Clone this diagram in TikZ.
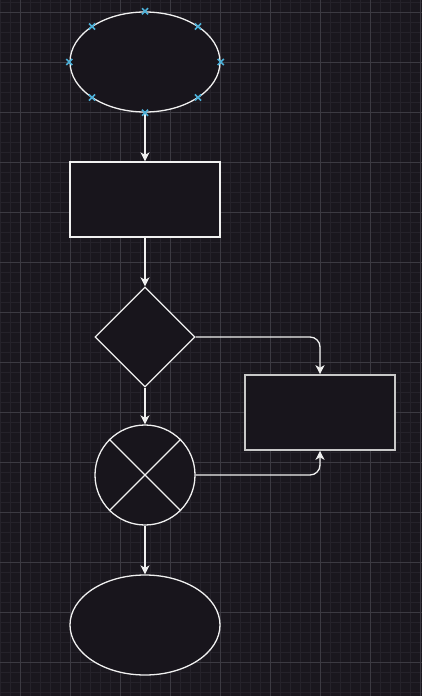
\documentclass[tikz,border=0pt]{standalone}
\usetikzlibrary{shapes.geometric,shapes.misc,arrows.meta}
\definecolor{bg}{HTML}{1A171E}
\definecolor{shapefill}{HTML}{18151C}
\definecolor{minorgrid}{HTML}{25222A}
\definecolor{majorgrid}{HTML}{3C3A42}
\definecolor{strokecol}{HTML}{F0F0F0}
\definecolor{stroketwo}{HTML}{C8C8C8}
\definecolor{markblue}{HTML}{4BB0D8}
\tikzset{
  shapebase/.style={draw=strokecol, fill=shapefill, line width=1.3pt, inner sep=0pt},
  ell/.style={shapebase, ellipse, minimum width=150pt, minimum height=100pt},
  box/.style={shapebase, rectangle, minimum width=150pt, minimum height=75pt},
  boxgray/.style={box, draw=stroketwo, line width=1.6pt},
  dia/.style={shapebase, diamond, minimum width=100pt, minimum height=100pt},
  circ/.style={shapebase, circle, minimum size=100pt},
  xline/.style={draw=strokecol, line width=1.3pt},
  conn/.style={draw=strokecol, line width=1.3pt, rounded corners=10pt,
    -{Stealth[length=9pt,width=9pt,inset=2.5pt]}},
  marker/.style={cross out, draw=markblue, line width=1.6pt, minimum size=4.5pt, inner sep=0pt},
}
\begin{document}
\begin{tikzpicture}[x=1pt,y=-1pt]
\fill[bg] (0,0) rectangle (422,696);
\useasboundingbox (0,0) rectangle (422,696);
% minor grid
\foreach \x in {0,10,...,420} \draw[minorgrid, line width=0.7pt] (\x,0) -- (\x,696);
\foreach \y in {2,12,...,692} \draw[minorgrid, line width=0.7pt] (0,\y) -- (422,\y);
% major grid
\foreach \x in {20,70,...,420} \draw[majorgrid, line width=0.8pt] (\x,0) -- (\x,696);
\foreach \y in {12,62,...,662} \draw[majorgrid, line width=0.8pt] (0,\y) -- (422,\y);

% shapes
\node[ell] (e1) at (145,62) {};
\node[box] (r1) at (145,199.5) {};
\node[dia] (d1) at (145,337) {};
\node[boxgray] (r2) at (320,412.5) {};
\node[circ] (c1) at (145,475) {};
\draw[xline] (c1.45) -- (c1.225) (c1.135) -- (c1.315);
\node[ell] (e2) at (145,625) {};

% connectors
\draw[conn] (e1.south) -- (r1.north);
\draw[conn] (r1.south) -- (d1.north);
\draw[conn] (d1.south) -- (c1.north);
\draw[conn] (c1.south) -- (e2.north);
\draw[conn] (d1.east) -| (r2.north);
\draw[conn] (c1.east) -| (r2.south);

% connection point markers on the top ellipse
\node[marker] (m1) at (e1.north) {};
\node[marker] (m2) at (e1.south) {};
\node[marker] (m3) at (e1.west) {};
\node[marker] (m4) at (e1.east) {};
\node[marker] (m5) at (92,26.6) {};
\node[marker] (m6) at (198,26.6) {};
\node[marker] (m7) at (92,97.4) {};
\node[marker] (m8) at (198,97.4) {};
\end{tikzpicture}
\end{document}
